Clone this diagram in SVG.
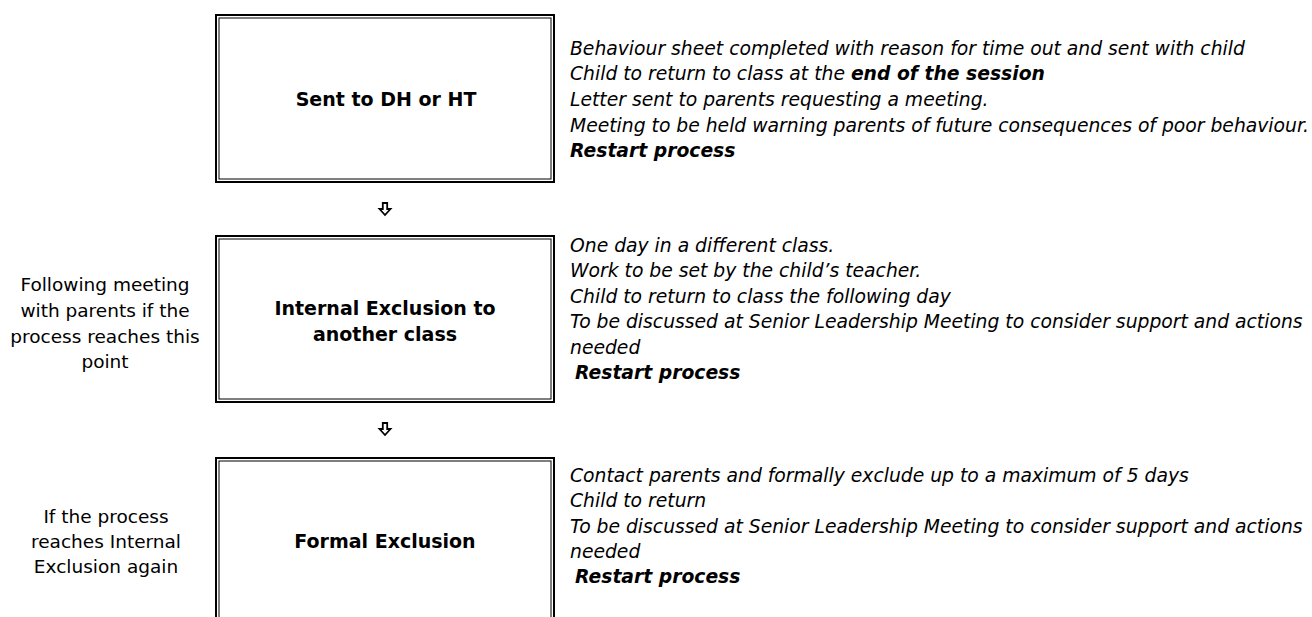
<svg xmlns="http://www.w3.org/2000/svg" width="1312" height="617" viewBox="0 0 1312 617">
<style>
.t{font-family:"DejaVu Sans",sans-serif;font-size:18.5px;fill:#000}
.i{font-style:italic;font-size:18.75px}
.b{font-weight:bold}
.h{font-family:"DejaVu Sans",sans-serif;font-size:19px;font-weight:bold;fill:#000;text-anchor:middle}
.c{text-anchor:middle}
.bo{fill:none;stroke:#000;stroke-width:2}
.bi{fill:none;stroke:#000;stroke-width:1}
.arr{fill:#fff;stroke:#000;stroke-width:1.8;stroke-linejoin:miter}
</style>
<defs>
<path id="darr" d="M-2.2,0 H2.2 V6 H5.5 L0,12 L-5.5,6 H-2.2 Z"/>
</defs>
<rect width="1312" height="617" fill="#fff"/>

<g id="node-sent">
<rect class="bo" x="216" y="15" width="338" height="167"/>
<rect class="bi" x="219" y="18" width="332" height="161"/>
<text class="h" x="386" y="106">Sent to DH or HT</text>
<text class="t i" x="570" y="54.5">Behaviour sheet completed with reason for time out and sent with child</text>
<text class="t i" x="570" y="80.2">Child to return to class at the <tspan class="b">end of the session</tspan></text>
<text class="t i" x="570" y="105.9">Letter sent to parents requesting a meeting.</text>
<text class="t i" x="570" y="131.6">Meeting to be held warning parents of future consequences of poor behaviour.</text>
<text class="t i b" x="570" y="157.3">Restart process</text>
</g>

<g id="node-internal">
<rect class="bo" x="216" y="236" width="338" height="166"/>
<rect class="bi" x="219" y="239" width="332" height="160"/>
<text class="h" x="385" y="315">Internal Exclusion to</text>
<text class="h" x="385" y="341">another class</text>
<text class="t c" x="105" y="291">Following meeting</text>
<text class="t c" x="105" y="317">with parents if the</text>
<text class="t c" x="105" y="343">process reaches this</text>
<text class="t c" x="105" y="368">point</text>
<text class="t i" x="570" y="252">One day in a different class.</text>
<text class="t i" x="570" y="277.4">Work to be set by the child’s teacher.</text>
<text class="t i" x="570" y="302.8">Child to return to class the following day</text>
<text class="t i" x="570" y="328.2">To be discussed at Senior Leadership Meeting to consider support and actions</text>
<text class="t i" x="570" y="353.6">needed</text>
<text class="t i b" x="575" y="379">Restart process</text>
</g>

<g id="node-formal">
<rect class="bo" x="216" y="458" width="338" height="180"/>
<rect class="bi" x="219" y="461" width="332" height="180"/>
<text class="h" x="385" y="548">Formal Exclusion</text>
<text class="t c" x="106" y="523">If the process</text>
<text class="t c" x="106" y="548">reaches Internal</text>
<text class="t c" x="106" y="573">Exclusion again</text>
<text class="t i" x="570" y="482">Contact parents and formally exclude up to a maximum of 5 days</text>
<text class="t i" x="570" y="507.3">Child to return</text>
<text class="t i" x="570" y="532.6">To be discussed at Senior Leadership Meeting to consider support and actions</text>
<text class="t i" x="570" y="557.9">needed</text>
<text class="t i b" x="575" y="583.2">Restart process</text>
</g>

<g id="connectors">
<use href="#darr" class="arr" x="385" y="203"/>
<use href="#darr" class="arr" x="385" y="423"/>
</g>
</svg>
